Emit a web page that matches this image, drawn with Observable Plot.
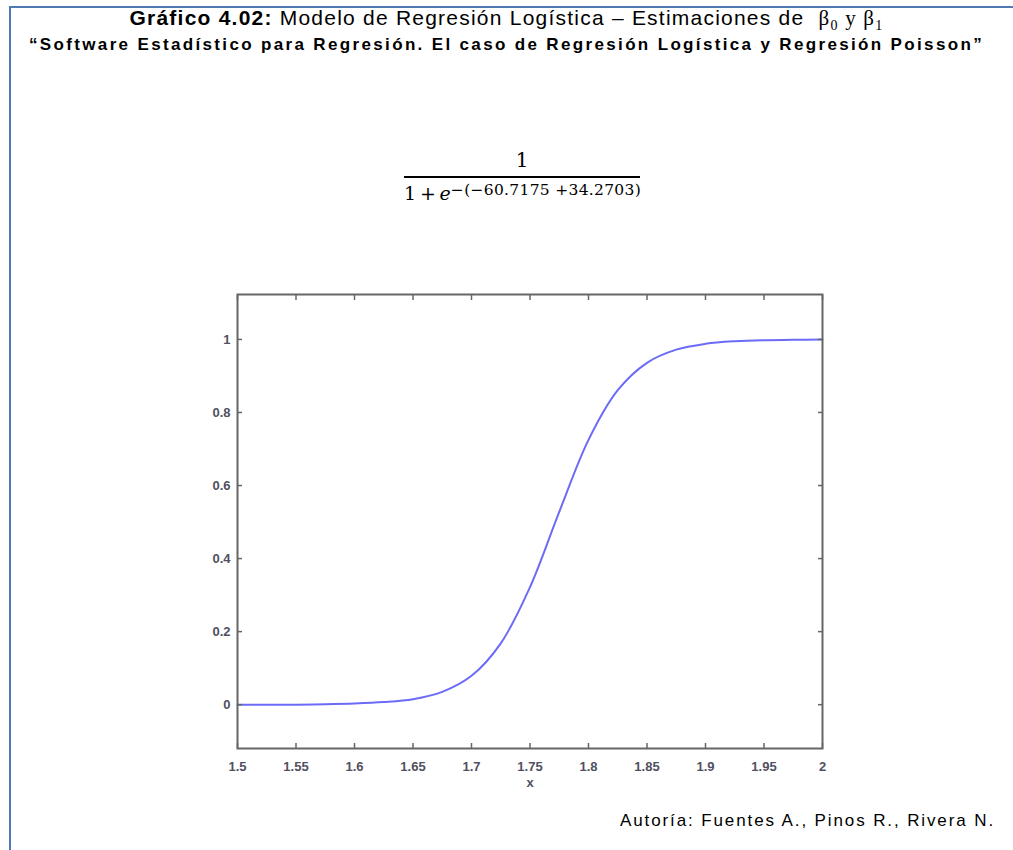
<!DOCTYPE html>
<html>
<head>
<meta charset="utf-8">
<script src="https://cdn.jsdelivr.net/npm/d3@7"></script>
<script src="https://cdn.jsdelivr.net/npm/@observablehq/plot@0.6"></script>
<style>
  html, body { margin: 0; padding: 0; background: #fff; width: 1013px; height: 850px; overflow: hidden; }
  #box { position: absolute; left: 9px; top: 6px; width: 1100px; height: 1000px;
         border-left: 2px solid #4e79b1; border-top: 2px solid #4e79b1; }
  .line { position: absolute; left: 0; width: 1013px; text-align: center; white-space: nowrap; }
  span.fit { display: inline-block; }
  #title { top: 6px; font: 21px "Liberation Sans", Arial, sans-serif; color: #000; }
  #subtitle { top: 35px; font: bold 17px "Liberation Sans", Arial, sans-serif; color: #000; }
  .greek { font-family: "Liberation Serif", "DejaVu Serif", serif; font-size: 21px; }
  .greek sub { font-size: 14px; }
  #formula { position: absolute; left: 404px; width: 236px; top: 145px; font-family: "DejaVu Serif", serif; color: #000; text-align: center; }
  #num { font-size: 20px; line-height: 31px; border-bottom: 2px solid #000; }
  #den { font-size: 19px; line-height: 24px; white-space: nowrap; text-align: left; }
  #den sup { font-size: 15.5px; vertical-align: 5px; letter-spacing: 0.3px; }
  #plot { position: absolute; left: 0; top: 250px; }
  #plot svg text { font-size: 13px; }
  #credit { position: absolute; top: 811px; right: 18px; font: 17px "Liberation Sans", Arial, sans-serif; color: #000; white-space: nowrap; }
</style>
</head>
<body>
<div id="box"></div>
<div id="title" class="line"><span class="fit" data-w="754"><b>Gráfico 4.02:</b> Modelo de Regresión Logística – Estimaciones de&nbsp; <span class="greek">β<sub>0</sub> y β<sub>1</sub></span></span></div>
<div id="subtitle" class="line"><span class="fit" data-w="955">“Software Estadístico para Regresión. El caso de Regresión Logística y Regresión Poisson”</span></div>
<div id="formula">
  <div id="num">1</div>
  <div id="den">1&#8201;+&#8201;<i>e</i><sup>−(−60.7175 +34.2703)</sup></div>
</div>
<div id="plot"></div>
<div id="credit"><span class="fit" data-w="375">Autoría: Fuentes A., Pinos R., Rivera N.</span></div>
<script>
// values
const xValues = [1.5, 1.525, 1.55, 1.575, 1.6, 1.625, 1.65, 1.675, 1.7, 1.725, 1.75, 1.775, 1.8, 1.825, 1.85, 1.875, 1.9, 1.925, 1.95, 1.975, 2.0];
const pValues = [0.000, 0.000, 0.000, 0.001, 0.003, 0.007, 0.015, 0.035, 0.079, 0.168, 0.322, 0.528, 0.725, 0.861, 0.936, 0.972, 0.988, 0.995, 0.998, 0.999, 1.000];
const xTicks = [1.5, 1.55, 1.6, 1.65, 1.7, 1.75, 1.8, 1.85, 1.9, 1.95, 2];
const yTicks = [0, 0.2, 0.4, 0.6, 0.8, 1];
const xLabel = "x";

const data = xValues.map((x, i) => ({x, p: pValues[i]}));

const axisStyle = {fontSize: 13, fontFamily: "Liberation Sans, Arial, sans-serif", fontWeight: "bold", fill: "#505060", stroke: "#666", strokeWidth: 1.5};

const chart = Plot.plot({
  width: 1013,
  height: 560,
  marginLeft: 237,
  marginRight: 191,
  marginTop: 44,
  marginBottom: 62,
  style: {fontFamily: "Liberation Sans, Arial, sans-serif", fontSize: "13px", background: "transparent"},
  x: {domain: [1.5, 2], label: null},
  y: {domain: [-0.12, 1.123], label: null},
  marks: [
    Plot.line(data, {x: "x", y: "p", curve: "catmull-rom", stroke: "#6b6bf7", strokeWidth: 2}),
    Plot.axisX(xTicks, {anchor: "bottom", tickSize: -5, tickPadding: 18, tickFormat: d => String(d), label: null, ...axisStyle}),
    Plot.axisX(xTicks, {anchor: "top", tickSize: -5, tickFormat: () => "", label: null, ...axisStyle}),
    Plot.axisY(yTicks, {anchor: "left", tickSize: -5, tickPadding: 12, tickFormat: d => String(d), label: null, ...axisStyle}),
    Plot.axisY(yTicks, {anchor: "right", tickSize: -5, tickFormat: () => "", label: null, ...axisStyle}),
    Plot.frame({stroke: "#666", strokeWidth: 2}),
    Plot.text([xLabel], {frameAnchor: "bottom", dy: 38, fontSize: 13, fontWeight: "bold", fill: "#505060"})
  ]
});
document.getElementById("plot").appendChild(chart);

// fit text widths to the reference
document.querySelectorAll("span.fit").forEach(el => {
  const target = +el.dataset.w;
  const w = el.getBoundingClientRect().width;
  const n = el.textContent.length;
  el.style.letterSpacing = ((target - w) / n) + "px";
});
</script>
</body>
</html>
